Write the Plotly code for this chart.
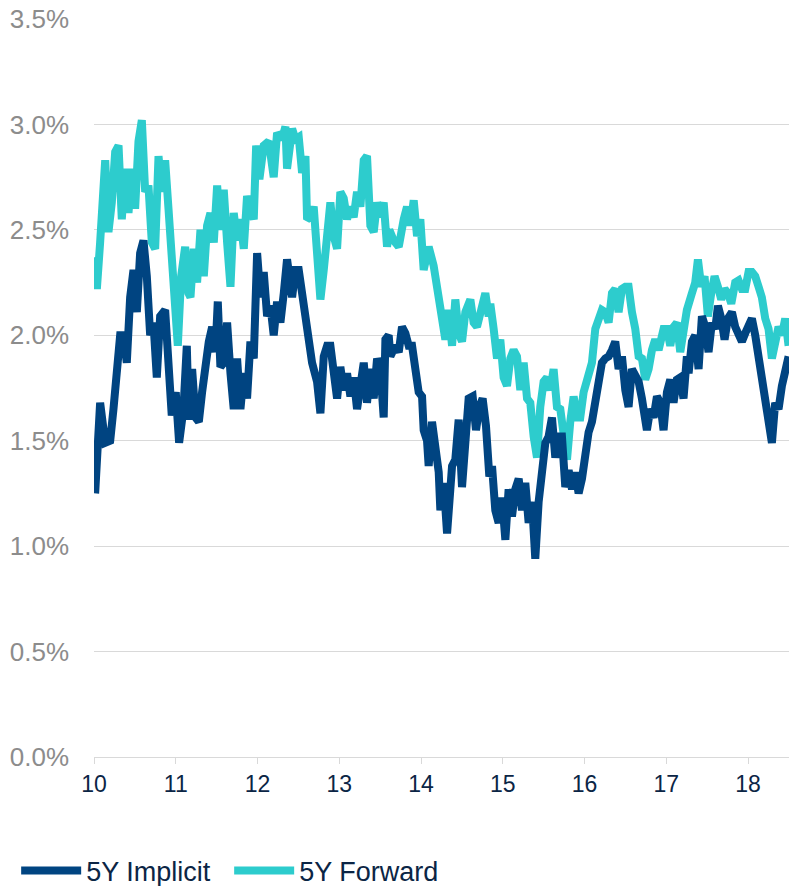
import plotly.graph_objects as go

# ---- data (decimal years, 10 = 2010) ----
implicit_t = [10.014, 10.075, 10.137, 10.198, 10.238, 10.279, 10.320, 10.361, 10.401, 10.442, 10.483, 10.524,
              10.564, 10.605, 10.646, 10.687, 10.727, 10.768, 10.809, 10.870, 10.911, 10.951, 11.000, 11.041,
              11.094, 11.135, 11.159, 11.200, 11.241, 11.282, 11.322, 11.363, 11.404, 11.445, 11.485, 11.514,
              11.546, 11.587, 11.628, 11.669, 11.709, 11.750, 11.791, 11.832, 11.872, 11.913, 11.954, 11.995,
              12.035, 12.076, 12.117, 12.158, 12.198, 12.239, 12.280, 12.321, 12.361, 12.423, 12.463, 12.504,
              12.545, 12.586, 12.626, 12.667, 12.728, 12.769, 12.810, 12.851, 12.891, 12.932, 12.973, 13.013,
              13.054, 13.095, 13.136, 13.176, 13.217, 13.258, 13.299, 13.339, 13.380, 13.421, 13.462, 13.502,
              13.543, 13.564, 13.604, 13.625, 13.686, 13.727, 13.767, 13.808, 13.849, 13.890, 13.930, 13.971,
              14.012, 14.032, 14.073, 14.093, 14.134, 14.175, 14.216, 14.236, 14.277, 14.318, 14.338, 14.379,
              14.419, 14.460, 14.501, 14.542, 14.582, 14.631, 14.672, 14.713, 14.753, 14.794, 14.835, 14.868,
              14.908, 14.949, 14.990, 15.031, 15.071, 15.112, 15.153, 15.194, 15.234, 15.275, 15.316, 15.357,
              15.397, 15.438, 15.479, 15.520, 15.560, 15.601, 15.642, 15.683, 15.723, 15.764, 15.805, 15.846,
              15.886, 15.927, 15.968, 16.009, 16.049, 16.090, 16.131, 16.172, 16.212, 16.253, 16.294, 16.335,
              16.375, 16.416, 16.457, 16.498, 16.538, 16.579, 16.620, 16.661, 16.701, 16.742, 16.762, 16.803,
              16.844, 16.885, 16.925, 16.966, 17.007, 17.048, 17.088, 17.129, 17.170, 17.210, 17.251, 17.272,
              17.313, 17.353, 17.394, 17.435, 17.476, 17.516, 17.557, 17.598, 17.631, 17.671, 17.712, 17.753,
              17.802, 17.842, 17.883, 17.924, 17.965, 18.005, 18.046, 18.087, 18.128, 18.168, 18.209, 18.250,
              18.291, 18.331, 18.372, 18.413, 18.454, 18.495]
implicit_v = [1.25, 1.68, 1.49, 1.50, 1.65, 1.82, 2.00, 2.00, 1.87, 2.18, 2.31, 2.11,
              2.39, 2.45, 2.28, 2.00, 2.06, 1.80, 2.09, 2.12, 1.76, 1.62, 1.73, 1.49,
              1.65, 1.95, 1.60, 1.84, 1.61, 1.59, 1.73, 1.90, 1.97, 2.04, 1.92, 2.16,
              1.85, 1.87, 2.06, 1.82, 1.65, 1.89, 1.65, 1.82, 1.70, 1.97, 1.89, 2.39,
              2.18, 2.30, 2.09, 2.14, 2.00, 2.16, 2.06, 2.20, 2.36, 2.18, 2.31, 2.31,
              2.20, 2.11, 2.00, 1.87, 1.78, 1.63, 1.90, 1.95, 1.95, 1.78, 1.70, 1.85,
              1.74, 1.82, 1.71, 1.80, 1.65, 1.76, 1.87, 1.68, 1.84, 1.70, 1.89, 1.84,
              1.61, 1.98, 2.00, 1.90, 1.95, 1.92, 2.04, 2.01, 1.95, 1.95, 1.80, 1.73,
              1.71, 1.55, 1.50, 1.38, 1.59, 1.46, 1.35, 1.17, 1.30, 1.06, 1.22, 1.38,
              1.41, 1.60, 1.28, 1.54, 1.70, 1.71, 1.55, 1.66, 1.70, 1.57, 1.33, 1.38,
              1.17, 1.11, 1.23, 1.03, 1.27, 1.14, 1.27, 1.32, 1.17, 1.30, 1.11, 1.21,
              0.94, 1.21, 1.38, 1.49, 1.52, 1.61, 1.42, 1.52, 1.52, 1.28, 1.36, 1.27,
              1.35, 1.25, 1.32, 1.46, 1.54, 1.59, 1.68, 1.80, 1.87, 1.89, 1.90, 1.93,
              1.97, 1.84, 1.90, 1.74, 1.66, 1.84, 1.80, 1.78, 1.70, 1.61, 1.55, 1.65,
              1.61, 1.71, 1.68, 1.55, 1.73, 1.79, 1.68, 1.79, 1.80, 1.70, 1.90, 1.82,
              1.97, 2.00, 1.84, 2.09, 2.04, 1.92, 2.06, 2.03, 2.14, 2.08, 1.98, 2.08,
              2.11, 2.04, 2.00, 1.97, 2.01, 2.04, 2.08, 2.00, 1.90, 1.80, 1.68, 1.57,
              1.49, 1.68, 1.65, 1.76, 1.84, 1.90]

forward_t = [10.014, 10.035, 10.075, 10.096, 10.137, 10.177, 10.218, 10.259, 10.300, 10.340, 10.381, 10.422,
             10.462, 10.503, 10.544, 10.585, 10.626, 10.666, 10.707, 10.748, 10.789, 10.829, 10.870, 10.911,
             10.951, 10.992, 11.025, 11.066, 11.115, 11.155, 11.180, 11.220, 11.261, 11.302, 11.343, 11.383,
             11.424, 11.465, 11.506, 11.546, 11.587, 11.628, 11.669, 11.709, 11.750, 11.791, 11.832, 11.872,
             11.913, 11.954, 11.983, 12.023, 12.076, 12.137, 12.198, 12.239, 12.300, 12.341, 12.361, 12.423,
             12.463, 12.504, 12.545, 12.586, 12.606, 12.647, 12.687, 12.728, 12.769, 12.810, 12.851, 12.891,
             12.932, 12.973, 13.013, 13.054, 13.095, 13.136, 13.176, 13.217, 13.258, 13.299, 13.339, 13.380,
             13.421, 13.462, 13.502, 13.543, 13.584, 13.612, 13.665, 13.727, 13.788, 13.828, 13.869, 13.910,
             13.951, 13.991, 14.032, 14.093, 14.154, 14.216, 14.256, 14.297, 14.338, 14.379, 14.419, 14.460,
             14.501, 14.542, 14.603, 14.643, 14.684, 14.725, 14.786, 14.827, 14.847, 14.888, 14.929, 14.969,
             15.010, 15.051, 15.092, 15.132, 15.173, 15.214, 15.255, 15.296, 15.336, 15.377, 15.418, 15.458,
             15.499, 15.540, 15.581, 15.621, 15.662, 15.703, 15.744, 15.785, 15.825, 15.866, 15.907, 15.947,
             15.988, 16.029, 16.057, 16.090, 16.131, 16.172, 16.212, 16.253, 16.294, 16.335, 16.375, 16.416,
             16.457, 16.498, 16.538, 16.579, 16.620, 16.661, 16.701, 16.742, 16.783, 16.824, 16.864, 16.905,
             16.966, 17.007, 17.048, 17.088, 17.129, 17.170, 17.210, 17.251, 17.313, 17.353, 17.386, 17.427,
             17.467, 17.508, 17.549, 17.590, 17.631, 17.671, 17.712, 17.753, 17.794, 17.842, 17.883, 17.924,
             17.965, 18.005, 18.046, 18.087, 18.128, 18.168, 18.209, 18.250, 18.291, 18.331, 18.372, 18.413,
             18.454, 18.495]
forward_v = [2.37, 2.22, 2.44, 2.61, 2.83, 2.49, 2.63, 2.87, 2.90, 2.55, 2.79, 2.58,
             2.79, 2.60, 2.92, 3.02, 2.68, 2.71, 2.44, 2.41, 2.85, 2.68, 2.83, 2.60,
             2.35, 2.18, 1.95, 2.28, 2.42, 2.20, 2.18, 2.41, 2.25, 2.50, 2.28, 2.52,
             2.58, 2.44, 2.71, 2.50, 2.69, 2.44, 2.23, 2.58, 2.45, 2.55, 2.41, 2.66,
             2.60, 2.55, 2.90, 2.74, 2.90, 2.92, 2.75, 2.96, 2.93, 2.99, 2.79, 2.98,
             2.93, 2.94, 2.77, 2.85, 2.55, 2.56, 2.61, 2.35, 2.17, 2.31, 2.52, 2.63,
             2.47, 2.41, 2.68, 2.65, 2.55, 2.61, 2.56, 2.68, 2.61, 2.83, 2.85, 2.52,
             2.49, 2.63, 2.56, 2.63, 2.42, 2.50, 2.45, 2.42, 2.55, 2.61, 2.52, 2.64,
             2.47, 2.55, 2.31, 2.42, 2.33, 2.20, 2.09, 1.98, 2.12, 1.95, 2.17, 2.01,
             1.97, 2.11, 2.17, 2.06, 2.04, 2.11, 2.20, 2.09, 2.15, 2.03, 1.89, 1.98,
             1.80, 1.76, 1.89, 1.93, 1.90, 1.74, 1.87, 1.70, 1.68, 1.52, 1.42, 1.66,
             1.78, 1.80, 1.74, 1.84, 1.66, 1.65, 1.55, 1.41, 1.59, 1.71, 1.61, 1.61,
             1.73, 1.80, 1.82, 1.87, 2.03, 2.08, 2.12, 2.11, 2.06, 2.20, 2.22, 2.11,
             2.22, 2.23, 2.23, 2.11, 2.03, 1.90, 1.89, 1.79, 1.84, 1.93, 1.98, 1.93,
             2.03, 2.03, 1.95, 2.04, 2.06, 1.92, 2.06, 2.12, 2.20, 2.25, 2.36, 2.23,
             2.28, 2.09, 2.20, 2.28, 2.23, 2.17, 2.22, 2.20, 2.15, 2.25, 2.26, 2.22,
             2.22, 2.30, 2.30, 2.28, 2.23, 2.18, 2.08, 2.03, 1.89, 1.95, 2.04, 2.00,
             2.08, 1.95]

x_ticks = [10, 11, 12, 13, 14, 15, 16, 17, 18]
x_tick_labels = ["10", "11", "12", "13", "14", "15", "16", "17", "18"]
y_ticks = [0.0, 0.5, 1.0, 1.5, 2.0, 2.5, 3.0, 3.5]
y_tick_labels = ["0.0%", "0.5%", "1.0%", "1.5%", "2.0%", "2.5%", "3.0%", "3.5%"]

NAVY = "#004481"
AQUA = "#2DCCCD"
FONT = "Liberation Sans, Arial, sans-serif"

fig = go.Figure()
fig.add_trace(go.Scatter(x=forward_t, y=forward_v, mode="lines", name="5Y Forward",
                         line=dict(color=AQUA, width=8), legendrank=2))
fig.add_trace(go.Scatter(x=implicit_t, y=implicit_v, mode="lines", name="5Y Implicit",
                         line=dict(color=NAVY, width=8), legendrank=1))

fig.update_layout(
    width=789, height=886,
    margin=dict(l=94, r=0, t=19, b=129, autoexpand=False),
    paper_bgcolor="white", plot_bgcolor="white",
    font=dict(family=FONT),
    showlegend=True,
    legend=dict(orientation="h", x=-0.112, xanchor="left", y=-0.1545, yanchor="middle",
                font=dict(size=27, color="#0B2545", family=FONT),
                itemwidth=60, entrywidth=138, entrywidthmode="pixels", tracegroupgap=0),
    xaxis=dict(range=[10, 18.5], tickmode="array", tickvals=x_ticks, ticktext=x_tick_labels,
               automargin=False,
               showgrid=False, zeroline=False, showline=True, linecolor="#D9D9D9", linewidth=1,
               ticks="outside", ticklen=6, tickcolor="#D9D9D9",
               tickfont=dict(size=23, color="#0B2545", family=FONT)),
    yaxis=dict(range=[0, 3.5], tickmode="array", tickvals=y_ticks, ticktext=y_tick_labels,
               automargin=False, ticklabeloverflow="allow",
               showgrid=True, gridcolor="#D9D9D9", gridwidth=1, zeroline=False, showline=False,
               ticks="", ticklabelstandoff=24,
               tickfont=dict(size=26, color="#8C8C8C", family=FONT)),
)

# remove the default 8px page margin so the figure fills the window exactly
fig.write_html("out.html", config={"displayModeBar": False},
               post_script="document.body.style.margin='0';document.body.style.overflow='hidden';")
